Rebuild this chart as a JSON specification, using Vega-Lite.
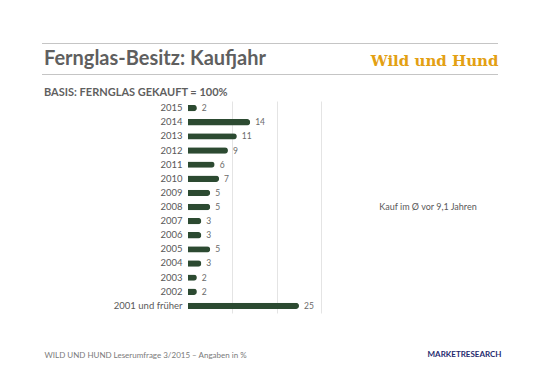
{
  "$schema": "https://vega.github.io/schema/vega-lite/v6.json",
  "autosize": "none",
  "width": 456,
  "height": 212,
  "padding": {"left": 42, "top": 101, "right": 43, "bottom": 67},
  "background": "white",
  "config": {"view": {"stroke": null}, "font": "Lato"},
  "title": {
    "text": "Fernglas-Besitz: Kaufjahr",
    "subtitle": "BASIS: FERNGLAS GEKAUFT = 100%",
    "anchor": "start",
    "frame": "group",
    "dx": 2,
    "dy": 59,
    "font": "Lato",
    "fontSize": 20,
    "fontWeight": "bold",
    "color": "#5f5f5f",
    "subtitleFont": "Lato",
    "subtitleFontSize": 11,
    "subtitleFontWeight": "bold",
    "subtitleColor": "#5f5f5f",
    "subtitlePadding": 18
  },
  "data": {
    "values": [
      {"jahr": "2015", "wert": 2},
      {"jahr": "2014", "wert": 14},
      {"jahr": "2013", "wert": 11},
      {"jahr": "2012", "wert": 9},
      {"jahr": "2011", "wert": 6},
      {"jahr": "2010", "wert": 7},
      {"jahr": "2009", "wert": 5},
      {"jahr": "2008", "wert": 5},
      {"jahr": "2007", "wert": 3},
      {"jahr": "2006", "wert": 3},
      {"jahr": "2005", "wert": 5},
      {"jahr": "2004", "wert": 3},
      {"jahr": "2003", "wert": 2},
      {"jahr": "2002", "wert": 2},
      {"jahr": "2001 und früher", "wert": 25}
    ]
  },
  "resolve": {"axis": {"x": "independent", "y": "independent"}},
  "layer": [
    {
      "mark": {"type": "bar", "color": "#2c4a31", "cornerRadiusEnd": 3},
      "encoding": {
        "x": {
          "field": "wert",
          "type": "quantitative",
          "scale": {"domain": [-32.88, 69.82], "nice": false},
          "axis": {
            "orient": "bottom",
            "offset": -239,
            "values": [10, 20, 30],
            "grid": true,
            "gridColor": "#e4e4e4",
            "gridWidth": 1,
            "labels": false,
            "ticks": false,
            "domain": true,
            "domainColor": "#8a8a8a",
            "domainDash": [1, 1],
            "domainWidth": 1,
            "title": null
          }
        },
        "y": {
          "field": "jahr",
          "type": "nominal",
          "sort": null,
          "scale": {"paddingInner": 0.55, "paddingOuter": 0.28},
          "axis": {
            "orient": "left",
            "offset": -146,
            "ticks": false,
            "domain": false,
            "labelFont": "Lato",
            "labelFontSize": 9.5,
            "labelColor": "#595959",
            "labelPadding": 6,
            "title": "WILD UND HUND Leserumfrage 3/2015 – Angaben in %",
            "titleAngle": 0,
            "titleX": -144,
            "titleY": 254,
            "titleAlign": "left",
            "titleBaseline": "middle",
            "titleFont": "Lato",
            "titleFontSize": 8,
            "titleFontWeight": "normal",
            "titleColor": "#7a7a7a"
          }
        }
      }
    },
    {
      "mark": {"type": "text", "align": "left", "dx": 5, "fontSize": 8.5, "color": "#6a6a6a", "font": "Lato"},
      "encoding": {
        "x": {
          "field": "wert",
          "type": "quantitative",
          "axis": {
            "orient": "top",
            "offset": 58,
            "labels": false,
            "ticks": false,
            "grid": false,
            "domain": true,
            "domainColor": "#8a8a8a",
            "domainDash": [1, 1],
            "domainWidth": 1,
            "title": "Wild und Hund",
            "titleAngle": 0,
            "titleX": 456,
            "titleY": 22,
            "titleAlign": "right",
            "titleBaseline": "alphabetic",
            "titleFont": "DejaVu Serif",
            "titleFontSize": 15,
            "titleFontWeight": "bold",
            "titleColor": "#e3a013"
          }
        },
        "y": {
          "field": "jahr",
          "type": "nominal",
          "sort": null,
          "axis": {
            "orient": "right",
            "labels": false,
            "ticks": false,
            "domain": false,
            "grid": false,
            "title": "MARKETRESEARCH",
            "titleAngle": 0,
            "titleX": 3,
            "titleY": 253,
            "titleAlign": "right",
            "titleBaseline": "middle",
            "titleFont": "Lato",
            "titleFontSize": 8,
            "titleFontWeight": "bold",
            "titleColor": "#1f2a6e"
          }
        },
        "text": {"field": "wert", "type": "quantitative"}
      }
    },
    {
      "data": {"values": [{"notiz": "Kauf im Ø vor 9,1 Jahren"}]},
      "mark": {"type": "text", "align": "center", "fontSize": 9, "color": "#595959", "font": "Lato"},
      "encoding": {
        "x": {"datum": 54.05, "type": "quantitative", "axis": null},
        "y": {"datum": "2008", "type": "nominal", "axis": null},
        "text": {"field": "notiz", "type": "nominal"}
      }
    }
  ]
}
